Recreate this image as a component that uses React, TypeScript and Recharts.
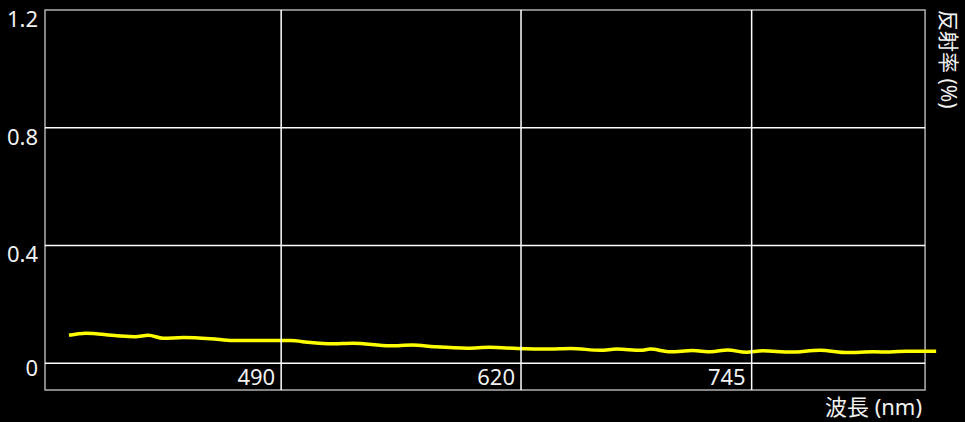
import { LineChart, Line, XAxis, YAxis, ReferenceLine, ReferenceArea } from 'recharts';

// wavelength (nm) of each sample
const wavelengths = [
  375, 384, 401, 411, 418, 426, 437, 452, 464, 491,
  495, 506, 517, 529, 549, 561, 573, 591, 603, 618,
  634, 647, 663, 672, 685, 690, 701, 713, 723, 732,
  742, 751, 766, 782, 797, 811, 820, 829, 845,
];

// reflectance (%) at each wavelength
const reflectance = [
  0.095, 0.102, 0.093, 0.09, 0.095, 0.085, 0.087, 0.083, 0.077, 0.077,
  0.077, 0.07, 0.066, 0.068, 0.059, 0.062, 0.056, 0.051, 0.054, 0.05,
  0.048, 0.05, 0.044, 0.048, 0.044, 0.048, 0.039, 0.043, 0.039, 0.045,
  0.037, 0.042, 0.038, 0.044, 0.036, 0.039, 0.038, 0.041, 0.041,
];

const xTicks = [490, 620, 745];
const yTicks = [0, 0.4, 0.8, 1.2];

const X_DOMAIN: [number, number] = [362, 846];
const BOX_END = 839;
const Y_MIN = -0.091;
const Y_MAX = 1.2;

const data = wavelengths.map((wl, i) => ({ wl, r: reflectance[i] }));

const FONT = '"Noto Sans", "Noto Sans CJK JP", sans-serif';
const TEXT = '#f2f2f2';

const YTick = ({ x, y, payload }: any) => (
  <text
    x={x}
    y={y + (payload.value === 0 ? 13 : 17)}
    textAnchor="end"
    fill={TEXT}
    fontSize={22}
    fontFamily={FONT}
  >
    {String(payload.value)}
  </text>
);

const XTick = ({ x, y, payload }: any) => (
  <text x={x - 6} y={y - 5} textAnchor="end" fill={TEXT} fontSize={22} fontFamily={FONT}>
    {payload.value}
  </text>
);

export default function App() {
  return (
    <div style={{ position: 'absolute', left: 0, top: 0, width: 965, height: 422, background: '#000', overflow: 'hidden' }}>
      <LineChart
        width={965}
        height={422}
        data={data}
        margin={{ top: 10, right: 27, bottom: 0, left: 0 }}
      >
        <XAxis
          type="number"
          dataKey="wl"
          domain={X_DOMAIN}
          ticks={xTicks}
          interval={0}
          height={32}
          axisLine={false}
          tickLine={false}
          tickSize={0}
          tickMargin={0}
          tick={XTick}
        />
        <YAxis
          type="number"
          domain={[Y_MIN, Y_MAX]}
          ticks={yTicks}
          interval={0}
          width={45}
          axisLine={false}
          tickLine={false}
          tickSize={0}
          tickMargin={7}
          tick={YTick}
        />
        <Line
          type="monotone"
          dataKey="r"
          stroke="#ffff00"
          strokeWidth={3.5}
          dot={false}
          isAnimationActive={false}
        />
        {yTicks.slice(0, 3).map((t) => (
          <ReferenceLine
            key={'h' + t}
            segment={[{ x: X_DOMAIN[0], y: t }, { x: BOX_END, y: t }]}
            stroke="#ffffff"
            strokeWidth={1.5}
          />
        ))}
        {xTicks.map((t) => (
          <ReferenceLine key={'v' + t} x={t} stroke="#ffffff" strokeWidth={1.5} />
        ))}
        <ReferenceArea
          x1={X_DOMAIN[0]}
          x2={BOX_END}
          y1={Y_MIN}
          y2={Y_MAX}
          fill="none"
          fillOpacity={0}
          stroke="#b0b0b0"
          strokeWidth={1.5}
        />
      </LineChart>
      <svg
        width={965}
        height={422}
        style={{ position: 'absolute', left: 0, top: 0, pointerEvents: 'none' }}
      >
        <text x={922} y={415} textAnchor="end" fill={TEXT} fontSize={22} fontFamily={FONT}>
          波長 (nm)
        </text>
        <text
          transform="translate(941, 10) rotate(90)"
          fill={TEXT}
          fontSize={21}
          fontFamily={FONT}
        >
          反射率 (%)
        </text>
      </svg>
    </div>
  );
}
